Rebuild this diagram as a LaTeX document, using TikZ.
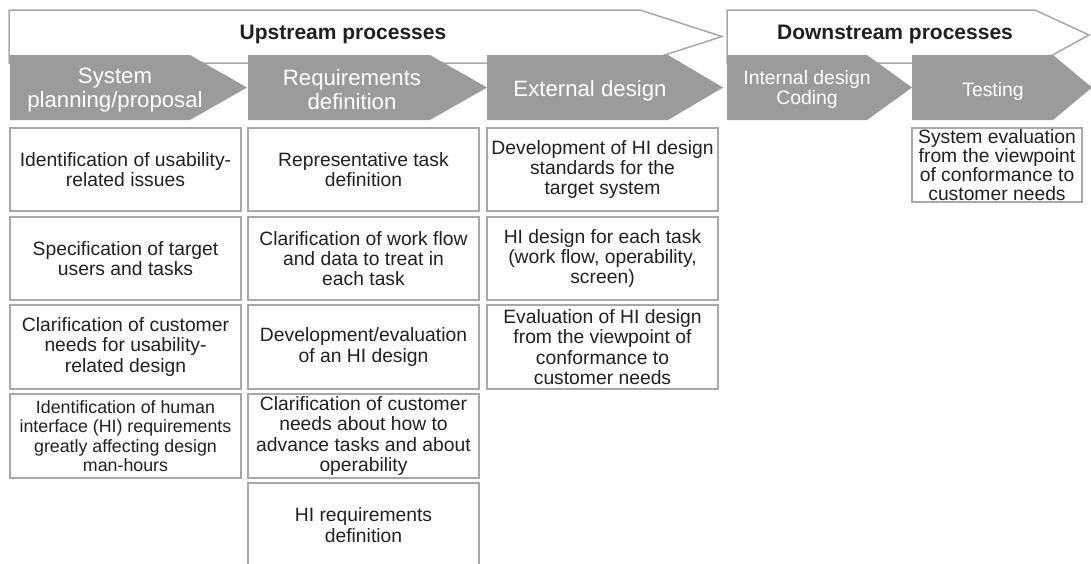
\documentclass[tikz,border=0pt]{standalone}
\usepackage{fontspec}
\setmainfont{Liberation Sans}
\usepackage{tikz}

\definecolor{phasegray}{RGB}{155,155,155}
\definecolor{linegray}{RGB}{168,168,168}
\definecolor{textdark}{RGB}{35,31,32}

\begin{document}
\begin{tikzpicture}[x=1pt,y=-1pt,
	every node/.style={textdark, align=center, inner sep=0pt},
	band/.style={draw=linegray, line width=1.5pt, fill=white},
	phase/.style={fill=phasegray},
	bandtext/.style={font=\bfseries\fontsize{21}{24}\selectfont},
	phasetext/.style={white, font=\fontsize{22.2}{24}\selectfont},
	smallphase/.style={white, font=\fontsize{19.4}{20}\selectfont},
	task/.style={draw=linegray, line width=1.5pt, minimum width=231pt, minimum height=83pt,
		font=\fontsize{19.3}{20.3}\selectfont}]
	\useasboundingbox (0,0) rectangle (1091,563);
	\clip (0,0) rectangle (1091,563);

	\draw[band] (9,10)--(640,10)--(722,36.5)--(640,63)--(9,63)--cycle;
	\draw[band] (727,10)--(1035,10)--(1089,35)--(1038,63)--(727,63)--cycle;
	\node[bandtext] (up) at (343,34) {Upstream processes};
	\node[bandtext] (down) at (895,34) {Downstream processes};

	\fill[phase] (10,55)--(190,55)--(247,87.5)--(190,120)--(10,120)--cycle;
	\fill[phase] (248,55)--(430,55)--(487,87.5)--(430,120)--(248,120)--cycle;
	\fill[phase] (487,55)--(668,55)--(723,87.5)--(668,120)--(487,120)--cycle;
	\fill[phase] (727,55)--(867,55)--(912,87.5)--(867,120)--(727,120)--cycle;
	\fill[phase] (912,55)--(1053,55)--(1092,87.5)--(1053,120)--(912,120)--cycle;

	\node[phasetext] (plan) at (115,90) {System\\planning/proposal};
	\node[phasetext] (req) at (352,90) {Requirements\\definition};
	\node[phasetext] (ext) at (590,91) {External design};
	\node[smallphase] (code) at (807,89) {Internal design\\Coding};
	\node[smallphase] (test) at (993,91) {Testing};

	\node[task] (plan1) at (125.5,169.5) {Identification of usability-\\related issues};
	\node[task] (plan2) at (125.5,258.5) {Specification of target\\users and tasks};
	\node[task, minimum height=84pt] (plan3) at (125.5,347) {Clarification of customer\\needs for usability-\\related design};
	\node[task, minimum height=84pt, font=\fontsize{17.8}{19.5}\selectfont] (plan4) at (125.5,436) {Identification of human\\interface (HI) requirements\\greatly affecting design\\man-hours};

	\node[task] (req1) at (363.5,169.5) {Representative task\\definition};
	\node[task] (req2) at (363.5,258.5) {Clarification of work flow\\and data to treat in\\each task};
	\node[task, minimum height=84pt] (req3) at (363.5,347) {Development/evaluation\\of an HI design};
	\node[task, minimum height=84pt] (req4) at (363.5,436) {Clarification of customer\\needs about how to\\advance tasks and about\\operability};
	\node[task, minimum height=84pt] (req5) at (363.5,525) {HI requirements\\definition};

	\node[task] (ext1) at (602.5,169.5) {Development of HI design\\standards for the\\target system};
	\node[task] (ext2) at (602.5,258.5) {HI design for each task\\(work flow, operability,\\screen)};
	\node[task, minimum height=84pt] (ext3) at (602.5,347) {Evaluation of HI design\\from the viewpoint of\\conformance to\\customer needs};

	\node[task, minimum width=170pt, minimum height=74pt, font=\fontsize{19.3}{18.8}\selectfont] (test1) at (997,165) {System evaluation\\from the viewpoint\\of conformance to\\customer needs};
\end{tikzpicture}
\end{document}
